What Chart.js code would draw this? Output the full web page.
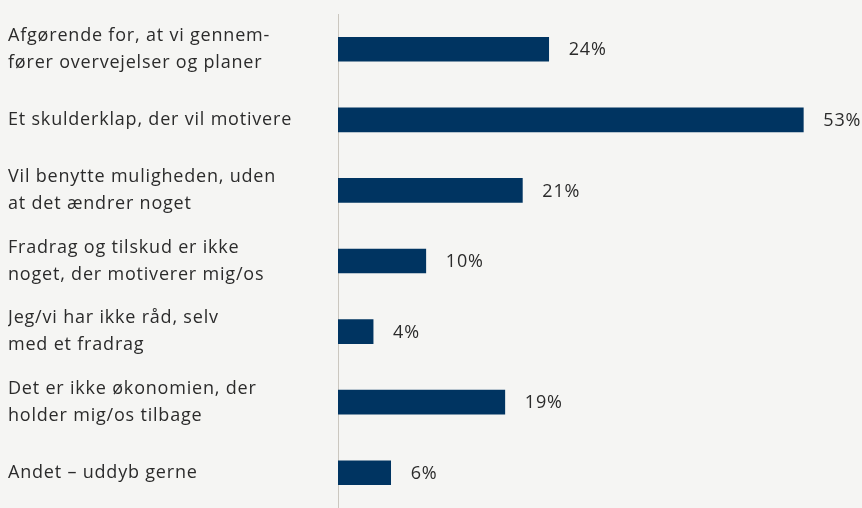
<!DOCTYPE html>
<html>
<head>
<meta charset="utf-8">
<script src="https://cdn.jsdelivr.net/npm/chart.js@4"></script>
<style>
  html, body { margin: 0; padding: 0; background: #f5f5f3; }
  #wrap { width: 862px; height: 508px; }
</style>
</head>
<body>
<div id="wrap"><canvas id="myChart"></canvas></div>
<script>
const categories = [
  ["Afgørende for, at vi gennem-", "fører overvejelser og planer"],
  "Et skulderklap, der vil motivere",
  ["Vil benytte muligheden, uden", "at det ændrer noget"],
  ["Fradrag og tilskud er ikke", "noget, der motiverer mig/os"],
  ["Jeg/vi har ikke råd, selv", "med et fradrag"],
  ["Det er ikke økonomien, der", "holder mig/os tilbage"],
  "Andet – uddyb gerne"
];
const shares = [24, 53, 21, 10, 4, 19, 6];

const barColor = '#003461';
const textColor = '#2b2b2b';
const fontFamily = '"Open Sans", sans-serif';
const spacing = '0.8px';

// the reference font runs wider, so spread the letters a bit
const wideText = {
  id: 'wideText',
  beforeDraw(chart) {
    chart.ctx.letterSpacing = spacing;
  }
};

// writes "24%" etc. just right of each bar
const valueLabels = {
  id: 'valueLabels',
  afterDatasetsDraw(chart) {
    const ctx = chart.ctx;
    const meta = chart.getDatasetMeta(0);
    ctx.save();
    ctx.letterSpacing = spacing;
    ctx.font = '18px ' + fontFamily;
    ctx.fillStyle = textColor;
    ctx.textAlign = 'left';
    ctx.textBaseline = 'middle';
    meta.data.forEach((bar, i) => {
      ctx.fillText(shares[i] + '%', bar.x + 20, bar.y + 1);
    });
    ctx.restore();
  }
};

const ctx = document.getElementById('myChart');
new Chart(ctx, {
  type: 'bar',
  data: {
    labels: categories,
    datasets: [{
      data: shares,
      backgroundColor: barColor,
      borderWidth: 0,
      barThickness: 24
    }]
  },
  plugins: [wideText, valueLabels],
  options: {
    indexAxis: 'y',
    responsive: true,
    maintainAspectRatio: false,
    animation: false,
    layout: { padding: { left: 8, right: 6, top: 14, bottom: 0 } },
    plugins: {
      legend: { display: false },
      tooltip: { enabled: false }
    },
    scales: {
      x: {
        display: false,
        min: 0,
        max: 59
      },
      y: {
        grid: { display: false, drawTicks: false },
        border: { display: true, color: '#cbc7bf', width: 1 },
        afterFit(scale) {
          scale.width = 330;
          scale.paddingTop = 0;
          scale.paddingBottom = 0;
        },
        ticks: {
          crossAlign: 'far',
          padding: 0,
          color: textColor,
          font: { family: fontFamily, size: 18, lineHeight: 1.5 }
        }
      }
    }
  }
});
</script>
</body>
</html>
